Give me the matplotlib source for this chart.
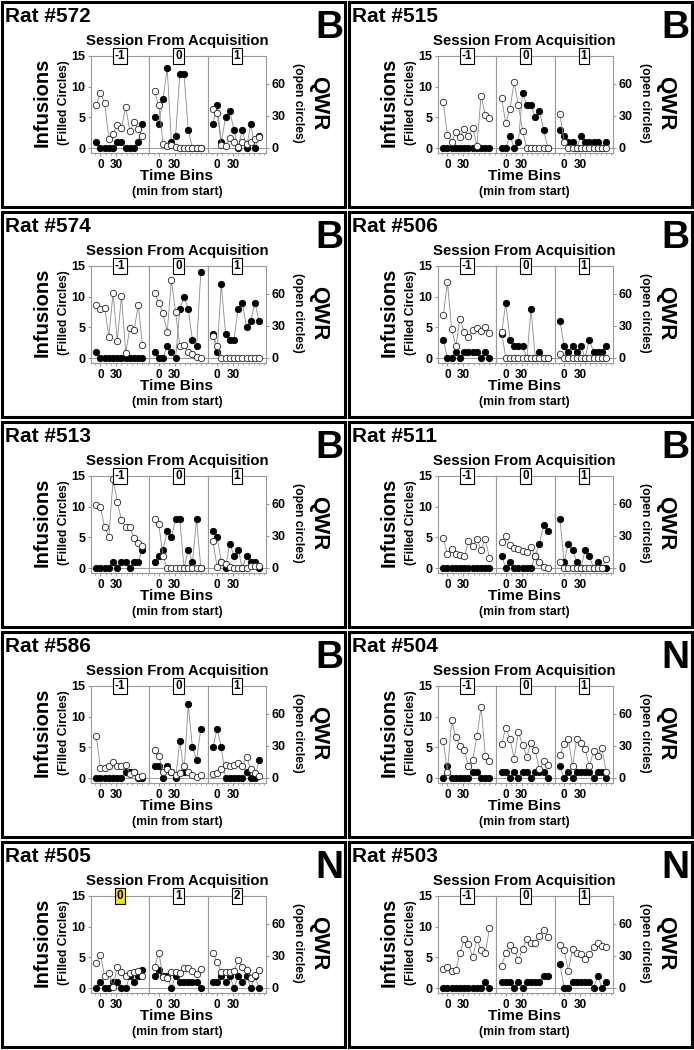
import matplotlib
matplotlib.use('Agg')
import matplotlib.pyplot as plt
from matplotlib.patches import Rectangle

plt.rcParams['font.family'] = ['Liberation Sans', 'DejaVu Sans']
plt.rcParams['font.weight'] = 'bold'

# time bins (min from start), 12 bins per session
time_bins = [-8, 0, 8, 16, 24, 32, 40, 48, 56, 64, 72, 80]

rat_ids = ['#572', '#515', '#574', '#506', '#513', '#511', '#586', '#504', '#505', '#503']
groups = ['B', 'B', 'B', 'B', 'B', 'B', 'B', 'N', 'N', 'N']
session_labels = [['-1', '0', '1']] * 8 + [['0', '1', '2']] + [['-1', '0', '1']]

# infusions (filled circles) and QWR (open circles), one list per session
inf_572 = [[1, 0, 0, 0, 0, 1, 1, 0, 0, 0, 1, 4], [5, 4, 8, 13, 1, 2, 12, 12, 3, 0, 0, 0], [4, 7, 1, 5, 6, 3, 0, 3, 0, 4, 0, 2]]
qwr_572 = [[40, 52, 42, 8, 13, 22, 19, 38, 16, 24, 18, 11], [53, 40, 4, 2, 3, 1, 0, 0, 0, 0, 0, 0], [37, 33, 3, 2, 9, 6, 1, 6, 4, 6, 8, 10]]
inf_515 = [[0, 0, 0, 0, 0, 0, 0, 0, 0, 0, 0, 0], [0, 0, 2, 0, 1, 9, 7, 7, 5, 6, 3, 0], [3, 2, 1, 1, 0, 2, 1, 1, 1, 1, 0, 1]]
qwr_515 = [[43, 12, 6, 15, 10, 18, 11, 19, 2, 49, 31, 28], [47, 23, 37, 62, 40, 16, 0, 0, 0, 0, 0, 0], [32, 6, 0, 0, 0, 0, 0, 0, 0, 0, 0, 0]]
inf_574 = [[1, 0, 0, 0, 0, 0, 0, 0, 0, 0, 0, 0], [1, 0, 0, 2, 1, 0, 8, 10, 8, 3, 2, 14], [4, 1, 12, 4, 3, 3, 8, 9, 5, 6, 9, 6]]
qwr_574 = [[50, 46, 47, 20, 61, 16, 58, 5, 28, 26, 50, 12], [61, 52, 42, 24, 73, 43, 11, 12, 6, 4, 1, 0], [21, 11, 0, 0, 0, 0, 0, 0, 0, 0, 0, 0]]
inf_506 = [[3, 0, 0, 1, 0, 1, 1, 1, 1, 0, 1, 0], [4, 9, 3, 2, 2, 2, 0, 8, 0, 1, 0, 0], [6, 2, 1, 2, 1, 2, 0, 3, 1, 1, 1, 2]]
qwr_506 = [[40, 71, 27, 11, 37, 24, 20, 26, 28, 25, 29, 23], [24, 0, 0, 0, 0, 0, 0, 0, 0, 0, 0, 0], [4, 0, 0, 0, 0, 0, 0, 0, 0, 0, 0, 0]]
inf_513 = [[0, 0, 0, 0, 1, 0, 1, 1, 0, 1, 1, 3], [1, 2, 3, 6, 5, 8, 8, 0, 3, 1, 8, 0], [6, 5, 1, 0, 4, 2, 3, 0, 2, 1, 1, 0]]
qwr_513 = [[59, 57, 38, 29, 83, 62, 45, 38, 38, 28, 23, 21], [46, 41, 11, 0, 0, 0, 0, 0, 0, 0, 0, 0], [25, 1, 6, 4, 1, 0, 0, 0, 0, 2, 2, 2]]
inf_511 = [[0, 0, 0, 0, 0, 0, 0, 0, 0, 0, 0, 0], [2, 0, 1, 0, 0, 0, 0, 0, 2, 4, 7, 6], [8, 1, 4, 3, 1, 0, 3, 2, 0, 1, 0, 0]]
qwr_511 = [[28, 13, 18, 13, 12, 11, 25, 21, 27, 17, 27, 9], [24, 30, 22, 19, 18, 16, 15, 20, 11, 6, 1, 0], [6, 0, 0, 0, 0, 0, 0, 0, 0, 0, 0, 8]]
inf_586 = [[0, 0, 0, 0, 0, 0, 0, 1, 1, 1, 0, 0], [2, 2, 0, 2, 1, 0, 6, 1, 12, 5, 3, 8], [5, 8, 5, 0, 0, 0, 0, 0, 1, 0, 0, 3]]
qwr_586 = [[39, 9, 9, 11, 15, 11, 11, 12, 4, 6, 1, 2], [26, 21, 6, 8, 6, 3, 5, 11, 6, 3, 1, 3], [4, 5, 8, 12, 11, 12, 14, 11, 20, 8, 5, 2]]
inf_504 = [[0, 2, 0, 0, 0, 0, 0, 1, 1, 0, 0, 0], [1, 1, 0, 1, 0, 1, 1, 0, 1, 1, 1, 0], [2, 0, 1, 0, 1, 1, 1, 1, 0, 1, 1, 0]]
qwr_504 = [[35, 6, 54, 38, 30, 26, 11, 17, 39, 67, 21, 16], [32, 47, 37, 18, 43, 31, 20, 33, 26, 8, 16, 12], [22, 32, 37, 11, 37, 33, 27, 11, 25, 21, 28, 6]]
inf_505 = [[0, 1, 0, 0, 1, 1, 0, 0, 2, 1, 2, 3], [2, 3, 2, 2, 0, 2, 1, 1, 1, 1, 1, 0], [1, 1, 2, 1, 2, 0, 2, 1, 2, 0, 2, 0]]
qwr_505 = [[23, 31, 11, 14, 1, 20, 15, 11, 14, 15, 16, 11], [20, 33, 10, 9, 15, 15, 14, 19, 19, 16, 13, 18], [33, 24, 15, 15, 15, 16, 26, 20, 17, 9, 12, 17]]
inf_503 = [[0, 0, 0, 0, 0, 0, 0, 0, 0, 0, 1, 0], [1, 1, 1, 0, 1, 0, 1, 1, 1, 1, 2, 2], [4, 0, 0, 1, 1, 1, 1, 1, 0, 2, 0, 1]]
qwr_503 = [[18, 20, 16, 17, 33, 46, 41, 29, 46, 36, 33, 56], [21, 33, 40, 36, 26, 37, 46, 42, 42, 49, 54, 48], [40, 36, 16, 37, 33, 32, 27, 32, 38, 42, 39, 38]]

infusions = [inf_572, inf_515, inf_574, inf_506, inf_513, inf_511, inf_586, inf_504, inf_505, inf_503]
qwr = [qwr_572, qwr_515, qwr_574, qwr_506, qwr_513, qwr_511, qwr_586, qwr_504, qwr_505, qwr_503]

W, H = 694, 1050
fig = plt.figure(figsize=(W / 100, H / 100), dpi=100)


def fx(px):
    return px / W


def fy(py):
    return 1 - py / H


grey = '#9a9a9a'
line_grey = '#8a8a8a'
sub_w = 58.33

for n in range(10):
    r, c = divmod(n, 2)
    x0, y0 = c * 347, r * 210

    fig.patches.append(Rectangle((fx(x0 + 2), fy(y0 + 207)), 343 / W, 205 / H,
                                 transform=fig.transFigure, fill=False, lw=2.2, ec='black'))

    fig.text(fx(x0 + 5), fy(y0 + 22), 'Rat ' + rat_ids[n], fontsize=15, ha='left', va='baseline')
    fig.text(fx(x0 + 343), fy(y0 + 38), groups[n], fontsize=28, ha='right', va='baseline')
    fig.text(fx(x0 + 177), fy(y0 + 45), 'Session From Acquisition', fontsize=10.7, ha='center', va='baseline')
    fig.text(fx(x0 + 42), fy(y0 + 102), 'Infusions', fontsize=14.5, rotation=90, ha='center', va='center')
    fig.text(fx(x0 + 64), fy(y0 + 103), '(Filled Circles)', fontsize=8.8, rotation=90, ha='center', va='center')
    fig.text(fx(x0 + 298), fy(y0 + 103), '(open circles)', fontsize=8.8, rotation=270, ha='center', va='center')
    fig.text(fx(x0 + 319), fy(y0 + 103), 'QWR', fontsize=16, rotation=270, ha='center', va='center')
    fig.text(fx(x0 + 177), fy(y0 + 180), 'Time Bins', fontsize=11, ha='center', va='baseline')
    fig.text(fx(x0 + 177), fy(y0 + 195), '(min from start)', fontsize=8.8, ha='center', va='baseline')

    for k in range(3):
        left = x0 + 91 + sub_w * k
        ax = fig.add_axes([fx(left), fy(y0 + 153), sub_w / W, 97 / H])
        ax.set_xlim(-18, 93)
        ax.set_ylim(-0.8, 15)
        ax.axhline(0, color=grey, lw=0.7, zorder=1)
        ax.plot(time_bins, infusions[n][k], color=line_grey, lw=0.6, marker='o', ms=4.6,
                mfc='black', mec='black', mew=0.6, zorder=2, clip_on=False)
        for s in ax.spines.values():
            s.set_color(grey)
            s.set_linewidth(0.8)
        ax.set_xticks([0, 30])
        ax.set_xticks(range(-10, 91, 10), minor=True)
        ax.tick_params(axis='x', which='major', length=2.5, width=0.8, color=grey, pad=1.5, labelsize=8.5)
        ax.tick_params(axis='x', which='minor', length=1.3, width=0.6, color=grey)
        if k == 0:
            ax.set_yticks([0, 5, 10, 15])
            ax.tick_params(axis='y', length=2.5, width=0.8, color=grey, pad=1.5, labelsize=9)
        else:
            ax.set_yticks([])

        ax2 = ax.twinx()
        ax2.set_ylim(-4.7, 86.25)
        ax2.plot(time_bins, qwr[n][k], color=line_grey, lw=0.6, marker='o', ms=4.6,
                 mfc='white', mec='#222222', mew=0.6, zorder=3, clip_on=False)
        for s in ax2.spines.values():
            s.set_visible(False)
        if k == 2:
            ax2.set_yticks([0, 30, 60])
            ax2.tick_params(axis='y', length=2.5, width=0.8, color=grey, pad=1.5, labelsize=9)
        else:
            ax2.set_yticks([])

        label = session_labels[n][k]
        face = '#f2e600' if (n == 8 and k == 0) else 'white'
        ax2.text(0.5, 1.0, label, transform=ax2.transAxes, ha='center', va='center', fontsize=8.5,
                 zorder=5, bbox=dict(boxstyle='square,pad=0.15', fc=face, ec='black', lw=0.8))

fig.savefig('out.png', dpi=100)
